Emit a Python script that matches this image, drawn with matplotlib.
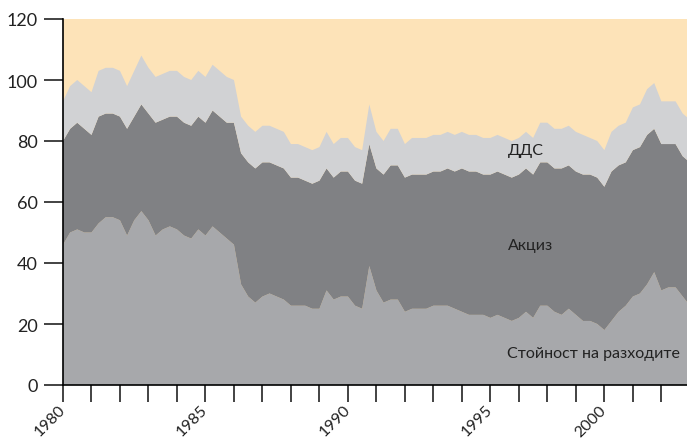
import matplotlib
matplotlib.use("Agg")
import matplotlib.pyplot as plt
from matplotlib.transforms import ScaledTranslation

# quarterly values, 1980 onward (stacked: cost + excise + VAT)
cost = [46, 50, 51, 50, 50, 53, 55, 55, 54, 49, 54, 57, 54, 49, 51, 52, 51, 49, 48, 51,
        49, 52, 50, 48, 46, 33, 29, 27, 29, 30, 29, 28, 26, 26, 26, 25, 25, 31, 28, 29,
        29, 26, 25, 39, 31, 27, 28, 28, 24, 25, 25, 25, 26, 26, 26, 25, 24, 23, 23, 23,
        22, 23, 22, 21, 22, 24, 22, 26, 26, 24, 23, 25, 23, 21, 21, 20, 18, 21, 24, 26,
        29, 30, 33, 37, 31, 32, 32, 29, 26]
excise = [34, 34, 35, 34, 32, 35, 34, 34, 34, 35, 34, 35, 35, 37, 36, 36, 37, 37, 37, 37,
          37, 38, 38, 38, 40, 43, 44, 44, 44, 43, 43, 43, 42, 42, 41, 41, 42, 40, 40, 41,
          41, 41, 41, 40, 40, 42, 44, 44, 44, 44, 44, 44, 44, 44, 45, 45, 47, 47, 47, 46,
          47, 47, 47, 47, 47, 47, 47, 47, 47, 47, 48, 47, 47, 48, 48, 48, 47, 49, 48, 47,
          48, 48, 49, 47, 48, 47, 47, 46, 47]
vat = [13, 14, 14, 14, 14, 15, 15, 15, 15, 14, 15, 16, 15, 15, 15, 15, 15, 15, 15, 15,
       15, 15, 15, 15, 14, 12, 12, 12, 12, 12, 12, 12, 11, 11, 11, 11, 11, 12, 11, 11,
       11, 11, 11, 13, 12, 11, 12, 12, 11, 12, 12, 12, 12, 12, 12, 12, 12, 12, 12, 12,
       12, 12, 12, 12, 12, 12, 12, 13, 13, 13, 13, 13, 13, 13, 12, 12, 12, 13, 13, 13,
       14, 14, 15, 15, 14, 14, 14, 14, 14]

tick_labels = {0: "1980", 20: "1985", 40: "1990", 60: "1995", 76: "2000"}

plt.rcParams["font.family"] = ["Lato", "DejaVu Sans"]

fig = plt.figure(figsize=(6.87, 4.39), dpi=100)
ax = fig.add_axes([63 / 687, 53 / 439, 624 / 687, 366 / 439])
ax.set_facecolor("#fde3b8")

x = list(range(len(cost)))
ax.stackplot(x, cost, excise, vat,
             colors=["#a7a8ab", "#808184", "#d1d2d4"], linewidth=0)

ax.set_xlim(0, 87.6)
ax.set_ylim(0, 120)
ax.set_yticks(range(0, 121, 20))
ax.set_xticks(range(0, 88, 4))
ax.set_xticklabels([tick_labels.get(t, "") for t in range(0, 88, 4)],
                   rotation=45, ha="right", va="center", rotation_mode="anchor")
shift = ScaledTranslation(10 / 100, 0, fig.dpi_scale_trans)
for lbl in ax.get_xticklabels():
    lbl.set_transform(lbl.get_transform() + shift)

for side in ["top", "right"]:
    ax.spines[side].set_visible(False)
ax.spines["left"].set_linewidth(1.2)
ax.spines["bottom"].set_linewidth(1.2)
ax.tick_params(axis="y", length=14, width=1.2, labelsize=13, colors="#222222", pad=4)
ax.tick_params(axis="x", length=12, width=1.2, labelsize=11.5, colors="#222222", pad=4)

ax.text(65, 77, "ДДС", ha="center", va="center", fontsize=11.5, color="#222222")
ax.text(65.6, 46, "Акциз", ha="center", va="center", fontsize=11.5, color="#222222")
ax.text(74.5, 10.5, "Стойност на разходите", ha="center", va="center",
        fontsize=11.5, color="#222222")

fig.savefig("out.png", dpi=100)
